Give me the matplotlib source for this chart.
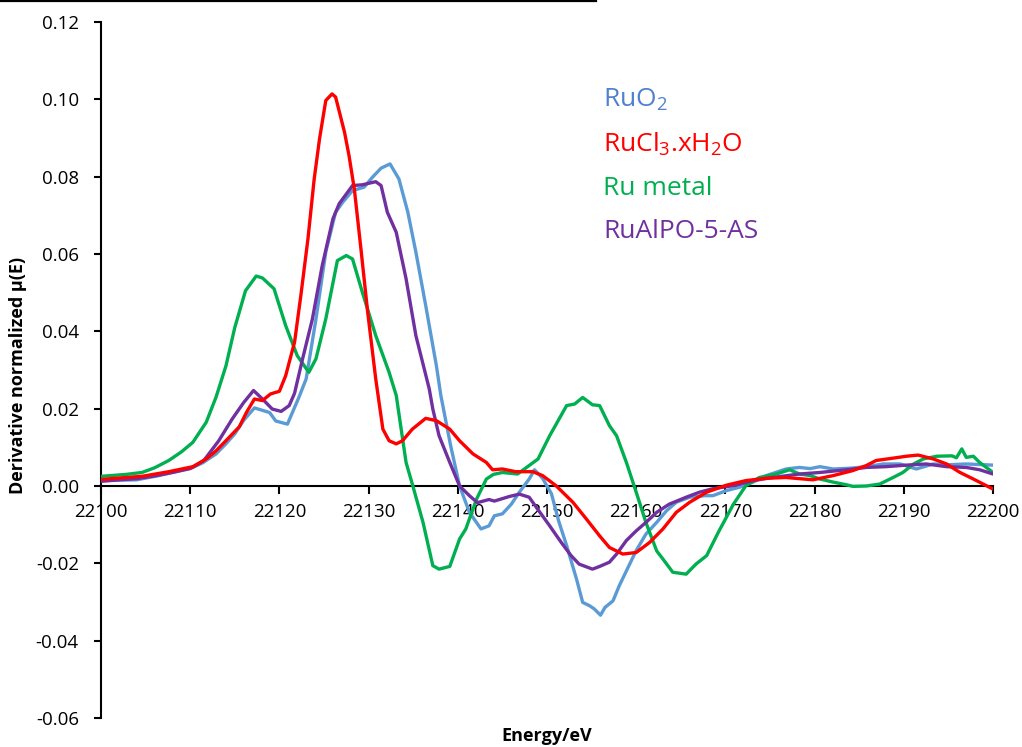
import matplotlib
matplotlib.use("Agg")
import matplotlib.pyplot as plt
from matplotlib.lines import Line2D
from matplotlib.ticker import FormatStrFormatter

plt.rcParams['font.family'] = ['Open Sans', 'DejaVu Sans']
plt.rcParams['axes.unicode_minus'] = False
plt.rcParams['mathtext.fontset'] = 'custom'
plt.rcParams['mathtext.rm'] = 'Open Sans'
plt.rcParams['mathtext.it'] = 'Open Sans:italic'
plt.rcParams['mathtext.bf'] = 'Open Sans:bold'

# ---------------- data ----------------
ruo2_e = [22100, 22102, 22104, 22106.5, 22108, 22110.3, 22111.4, 22112.9, 22114, 22115, 22116,
          22117.2, 22118.9, 22119.6, 22120.9, 22122.2, 22123.0, 22124.1, 22125.2, 22126.3, 22127.1,
          22128.2, 22129.5, 22130.45, 22131.4, 22132.4, 22133.4, 22134.4, 22135.3, 22136.4, 22137.6,
          22138.1, 22139.2, 22140.2, 22141.3, 22142.6, 22143.5, 22144.1, 22145.0, 22146.0, 22146.9,
          22148.0, 22148.6, 22149.5, 22150.5, 22151.3, 22152.2, 22153.3, 22154.0, 22154.8, 22155.3,
          22156.0, 22156.5, 22157.4, 22158.1, 22159.1, 22160.0, 22161.1, 22162.3, 22163.4, 22164.5,
          22166.0, 22167.7, 22168.6, 22170.1, 22171.6, 22173.1, 22174.6, 22176.8, 22178.3, 22179.5,
          22180.6, 22182.1, 22184.0, 22185.8, 22187.7, 22189.6, 22191.4, 22193.3, 22195.0, 22197.0,
          22200]
ruo2_v = [0.0014, 0.0015, 0.0016, 0.0027, 0.0035, 0.0048, 0.0060, 0.0083, 0.0109, 0.0135, 0.0170,
          0.0202, 0.0190, 0.0168, 0.0160, 0.0230, 0.0277, 0.0432, 0.0605, 0.0708, 0.0734,
          0.0764, 0.0773, 0.0799, 0.0822, 0.0833, 0.0794, 0.0708, 0.0605, 0.0467, 0.0311,
          0.0234, 0.0104, 0.0000, -0.0068, -0.0111, -0.0103, -0.0077, -0.0072, -0.0047, -0.0016,
          0.0018, 0.0042, 0.0020, -0.0020, -0.0090, -0.0154, -0.0240, -0.0301, -0.0310, -0.0318,
          -0.0334, -0.0314, -0.0297, -0.0258, -0.0210, -0.0167, -0.0124, -0.0094, -0.0064, -0.0042,
          -0.0029, -0.0025, -0.0025, -0.0012, -0.0003, 0.0010, 0.0027, 0.0044, 0.0048, 0.0045,
          0.0050, 0.0044, 0.0046, 0.0050, 0.0057, 0.0057, 0.0044, 0.0057, 0.0055, 0.0057,
          0.0054]

rucl3_e = [22100, 22102.8, 22104.6, 22107.6, 22110.3, 22111.8, 22112.9, 22114.0, 22115.5, 22116.3,
           22117.2, 22118.1, 22119.0, 22120.0, 22120.7, 22121.7, 22122.4, 22123.2, 22123.9, 22124.5,
           22125.2, 22125.9, 22126.3, 22127.3, 22127.8, 22128.4, 22129.1, 22129.9, 22130.8, 22131.6,
           22132.3, 22133.1, 22133.8, 22134.9, 22136.4, 22137.6, 22139.1, 22140.2, 22141.7, 22143.2,
           22143.9, 22145.0, 22146.5, 22148.4, 22149.5, 22151.0, 22152.9, 22154.4, 22155.9, 22157.0,
           22158.5, 22160.0, 22161.5, 22163.0, 22164.5, 22166.0, 22167.9, 22170.1, 22172.3, 22174.6,
           22176.8, 22178.3, 22179.8, 22182.1, 22184.3, 22185.8, 22186.9, 22188.8, 22190.3, 22191.6,
           22193.3, 22194.8, 22196.3, 22197.8, 22200]
rucl3_v = [0.0017, 0.0022, 0.0025, 0.0037, 0.0050, 0.0070, 0.0091, 0.0117, 0.0153, 0.0190,
           0.0225, 0.0221, 0.0238, 0.0245, 0.0285, 0.0372, 0.0492, 0.0639, 0.0794, 0.0898,
           0.0997, 0.1014, 0.1006, 0.0915, 0.0855, 0.0768, 0.0622, 0.0449, 0.0277, 0.0147,
           0.0117, 0.0109, 0.0117, 0.0147, 0.0175, 0.0169, 0.0147, 0.0117, 0.0083, 0.0061,
           0.0042, 0.0044, 0.0037, 0.0037, 0.0027, 0.0001, -0.0042, -0.0085, -0.0129, -0.0159,
           -0.0176, -0.0172, -0.0146, -0.0111, -0.0068, -0.0042, -0.0016, 0.0002, 0.0014, 0.0020,
           0.0022, 0.0019, 0.0016, 0.0027, 0.0040, 0.0053, 0.0066, 0.0072, 0.0077, 0.0080,
           0.0070, 0.0057, 0.0035, 0.0018, -0.0008]

ru_e = [22100, 22102.8, 22104.6, 22106.0, 22107.6, 22109.0, 22110.3, 22111.8, 22112.9, 22114.0,
        22115.0, 22116.2, 22117.4, 22118.1, 22119.4, 22120.7, 22122.0, 22123.3, 22124.1, 22125.2,
        22126.5, 22127.5, 22128.2, 22129.3, 22130.8, 22132.3, 22133.1, 22134.2, 22134.9, 22136.1,
        22137.2, 22137.9, 22139.1, 22140.2, 22140.9, 22142.1, 22143.2, 22144.0, 22145.0, 22146.7,
        22148.0, 22149.0, 22150.3, 22152.2, 22153.1, 22154.0, 22155.1, 22155.9, 22157.0, 22157.8,
        22158.9, 22160.0, 22161.1, 22162.3, 22163.0, 22164.1, 22165.6, 22166.7, 22167.9, 22169.2,
        22170.9, 22172.3, 22173.8, 22175.7, 22177.2, 22178.3, 22179.5, 22180.6, 22182.1, 22183.6,
        22184.3, 22185.8, 22187.3, 22188.8, 22189.9, 22191.1, 22192.2, 22193.7, 22195.4, 22195.9,
        22196.5, 22197.0, 22197.8, 22198.5, 22200]
ru_v = [0.0025, 0.0030, 0.0035, 0.0047, 0.0066, 0.0088, 0.0113, 0.0165, 0.0230, 0.0310,
        0.0410, 0.0505, 0.0543, 0.0538, 0.0510, 0.0415, 0.0337, 0.0294, 0.0329, 0.0432,
        0.0583, 0.0596, 0.0587, 0.0501, 0.0389, 0.0294, 0.0234, 0.0061, 0.0005, -0.0094,
        -0.0206, -0.0215, -0.0208, -0.0137, -0.0111, -0.0034, 0.0018, 0.0030, 0.0035, 0.0031,
        0.0053, 0.0070, 0.0130, 0.0208, 0.0212, 0.0229, 0.0210, 0.0208, 0.0156, 0.0130,
        0.0061, -0.0016, -0.0095, -0.0168, -0.0189, -0.0223, -0.0228, -0.0202, -0.0180, -0.0120,
        -0.0047, 0.0001, 0.0022, 0.0031, 0.0042, 0.0031, 0.0027, 0.0018, 0.0010, 0.0003,
        -0.0001, 0.0000, 0.0005, 0.0022, 0.0035, 0.0057, 0.0070, 0.0077, 0.0078, 0.0073,
        0.0096, 0.0074, 0.0077, 0.0061, 0.0035]

rualpo_e = [22100, 22102, 22104, 22106, 22108, 22110, 22111.5, 22113.2, 22114.7, 22116.0,
            22117.1, 22118.1, 22119.2, 22120.2, 22121.1, 22121.7, 22122.6, 22123.7, 22124.8, 22126.0,
            22126.7, 22128.2, 22129.3, 22130.8, 22131.4, 22132.1, 22133.1, 22134.2, 22135.3, 22136.8,
            22137.2, 22137.9, 22139.1, 22140.2, 22141.3, 22142.2, 22143.5, 22144.1, 22145.8, 22146.9,
            22148.0, 22148.8, 22150.3, 22151.6, 22152.7, 22153.6, 22155.1, 22155.9, 22157.0, 22157.8,
            22158.9, 22160.0, 22161.1, 22162.3, 22163.7, 22165.6, 22167.1, 22168.6, 22170.9, 22173.1,
            22175.3, 22178.3, 22180.6, 22183.6, 22185.8, 22188.0, 22190.3, 22192.5, 22194.8, 22197.0,
            22198.5, 22200]
rualpo_v = [0.0012, 0.0016, 0.0019, 0.0026, 0.0035, 0.0045, 0.0065, 0.0117, 0.0173, 0.0216,
            0.0247, 0.0225, 0.0199, 0.0193, 0.0208, 0.0240, 0.0329, 0.0432, 0.0570, 0.0691,
            0.0730, 0.0777, 0.0779, 0.0787, 0.0777, 0.0708, 0.0656, 0.0536, 0.0389, 0.0251,
            0.0199, 0.0130, 0.0061, 0.0000, -0.0025, -0.0043, -0.0035, -0.0039, -0.0027, -0.0021,
            -0.0029, -0.0055, -0.0103, -0.0146, -0.0180, -0.0202, -0.0215, -0.0208, -0.0197, -0.0176,
            -0.0141, -0.0116, -0.0094, -0.0068, -0.0047, -0.0029, -0.0016, -0.0007, 0.0001, 0.0014,
            0.0022, 0.0031, 0.0035, 0.0042, 0.0048, 0.0050, 0.0054, 0.0057, 0.0050, 0.0048,
            0.0042, 0.0031]

labels = ['RuO$_2$', 'RuCl$_3$.xH$_2$O', 'Ru metal', 'RuAlPO-5-AS']
line_colors = ['#5B9BD5', '#FF0000', '#00B050', '#7030A0']
text_colors = ['#4F81D0', '#FF0000', '#00B050', '#7030A0']
xticks = list(range(22100, 22201, 10))
yticks = [-0.06, -0.04, -0.02, 0.00, 0.02, 0.04, 0.06, 0.08, 0.10, 0.12]

# ---------------- figure ----------------
W, H = 1022, 747
fig = plt.figure(figsize=(W / 100, H / 100), dpi=100)
L, R, T, B = 101, 993, 22, 718
ax = fig.add_axes([L / W, 1 - B / H, (R - L) / W, (B - T) / H])

series = [(ruo2_e, ruo2_v), (rucl3_e, rucl3_v), (ru_e, ru_v), (rualpo_e, rualpo_v)]
handles = [None] * 4
for idx in [0, 2, 3, 1]:
    e, v = series[idx]
    ln, = ax.plot(e, v, color=line_colors[idx], lw=2.4, label=labels[idx],
                  solid_joinstyle='round', solid_capstyle='round', zorder=3)
    handles[idx] = ln

ax.set_xlim(22100, 22200)
ax.set_ylim(-0.06, 0.12)
ax.set_xticks(xticks)
ax.set_yticks(yticks)
ax.yaxis.set_major_formatter(FormatStrFormatter('%.2f'))
ax.xaxis.set_major_formatter(FormatStrFormatter('%d'))

for s in ['top', 'right']:
    ax.spines[s].set_visible(False)
ax.spines['bottom'].set_position(('data', 0))
ax.spines['left'].set_linewidth(1.5)
ax.spines['bottom'].set_linewidth(1.5)
ax.tick_params(axis='x', direction='out', length=6, width=1.5, labelsize=13.5, pad=6)
ax.tick_params(axis='y', direction='out', length=5, width=1.5, labelsize=13.5, pad=11)

ax.set_xlabel('Energy/eV', fontsize=13, fontweight='bold', va='baseline')
ax.xaxis.set_label_coords(547 / W, 1 - 741 / H, transform=fig.transFigure)
ax.set_ylabel('Derivative normalized μ(E)', fontsize=13, fontweight='bold', va='center')
ax.yaxis.set_label_coords(18 / W, 1 - 375 / H, transform=fig.transFigure)

leg = ax.legend(handles, labels, loc='upper left', bbox_to_anchor=(603 / W, 1 - 87 / H),
                bbox_transform=fig.transFigure, frameon=False, handlelength=0,
                handletextpad=0, borderpad=0, borderaxespad=0, labelspacing=0.68,
                fontsize=19)
for t, c in zip(leg.get_texts(), text_colors):
    t.set_color(c)
for h in leg.legend_handles:
    h.set_visible(False)

# thin black rule at the very top of the image
fig.add_artist(Line2D([0, 596 / W], [1 - 1.2 / H, 1 - 1.2 / H], color='black', lw=1.6,
                      transform=fig.transFigure))

fig.savefig('out.png', dpi=100)
